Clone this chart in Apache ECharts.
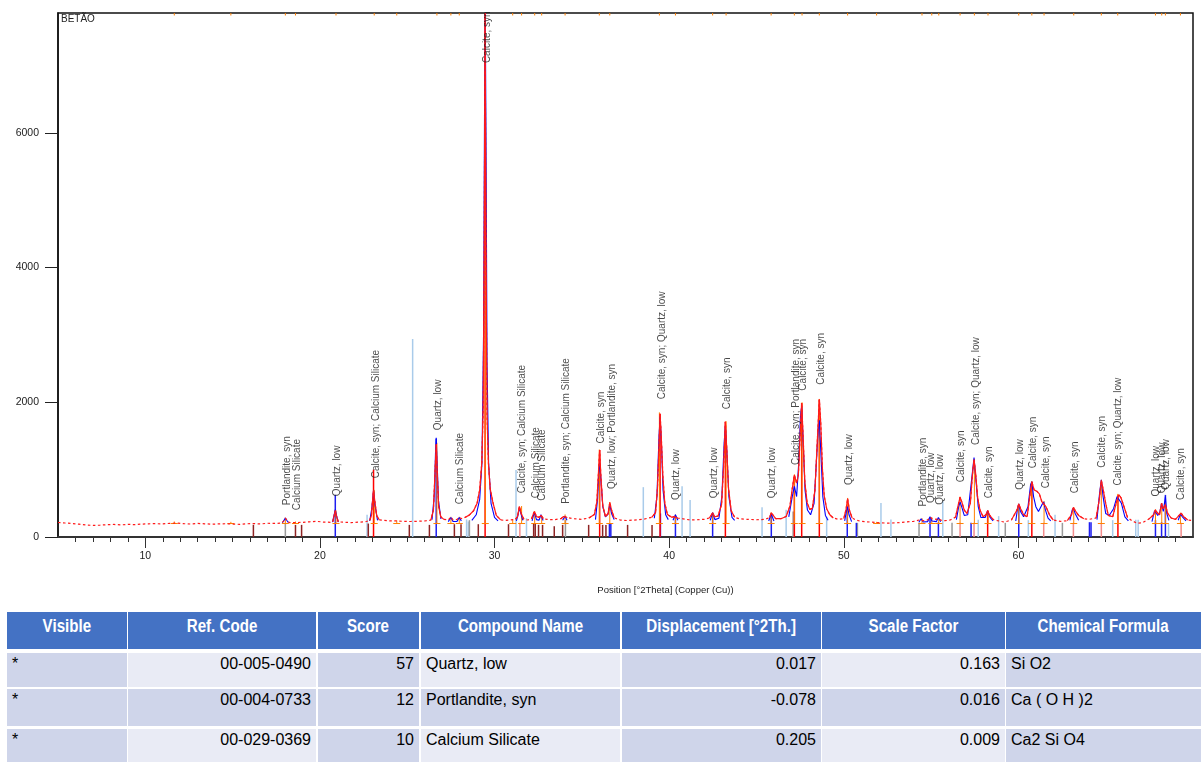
<!DOCTYPE html>
<html>
<head>
<meta charset="utf-8">
<title>BETÃO</title>
<script src="https://cdn.jsdelivr.net/npm/echarts@6/dist/echarts.min.js"></script>
<style>
  html, body { margin: 0; padding: 0; background: #fff; }
  #chart { position: absolute; left: 0; top: 0; width: 1201px; height: 600px; }
  #phases { position: absolute; left: 0; top: 612px; width: 1201px; height: 150px; overflow: hidden; }
  .cell { position: absolute; box-sizing: border-box; overflow: hidden; white-space: nowrap; }
  .head { background: #4472C4; color: #fff; font-family: 'Liberation Sans', Arial, sans-serif;
          font-weight: bold; font-size: 18px; line-height: 28px; text-align: center; }
  .head span { display: inline-block; transform: scaleX(0.84); transform-origin: 50% 50%; }
  .body { color: #000; font-family: 'Liberation Sans', Arial, sans-serif; font-size: 16px; line-height: 22px; padding: 0 5px; }
</style>
</head>
<body>
<div id="chart"></div>
<div id="phases"></div>
<script>
// ---- diffraction pattern: observed intensity (counts) vs position (°2Theta) ----
const observedPattern = [
  [5.0,215],[5.4,208],[5.8,200],[6.2,190],[6.6,178],[7.0,172],[7.4,176],[7.8,183],[8.2,186],[8.6,180],
  [9.0,188],[9.4,184],[9.8,192],[10.2,196],[10.6,198],[11.0,194],[11.4,203],[11.8,206],[12.2,198],[12.6,193],
  [13.0,201],[13.4,196],[13.8,190],[14.2,194],[14.6,197],[15.0,192],[15.4,188],[15.8,196],[16.2,199],[16.6,194],
  [17.0,204],[17.4,201],[17.8,206],[17.92,235],[18.02,280],[18.12,250],[18.25,212],
  [18.6,214],[19.0,218],[19.4,226],[19.8,232],[20.2,222],[20.6,218],
  [20.74,228],[20.82,320],[20.88,390],[20.95,310],[21.05,225],
  [21.4,218],[21.8,214],[22.2,220],[22.6,226],[22.85,245],
  [22.95,320],[23.02,560],[23.07,690],[23.14,540],[23.25,320],[23.4,255],[23.7,248],[24.0,240],
  [24.4,238],[24.8,232],[25.2,230],[25.6,234],[26.0,238],[26.35,250],
  [26.5,400],[26.59,950],[26.66,1380],[26.72,950],[26.8,450],[26.92,300],[27.1,262],
  [27.35,252],[27.5,298],[27.63,255],[27.85,262],[27.98,292],[28.1,272],[28.3,290],[28.55,325],[28.8,390],
  [29.0,500],[29.15,700],[29.27,1100],[29.35,1900],[29.41,4300],[29.46,7780],[29.51,4300],[29.57,1800],
  [29.65,1100],[29.75,720],[29.9,520],[30.1,320],[30.35,255],[30.6,245],[30.9,252],[31.2,262],
  [31.32,305],[31.42,455],[31.53,345],[31.68,265],[31.9,252],[32.12,272],
  [32.2,300],[32.28,380],[32.4,305],[32.55,292],[32.66,322],[32.8,272],[33.0,262],[33.4,256],[33.8,272],
  [33.95,305],[34.04,330],[34.17,290],[34.5,272],[35.0,262],[35.4,282],[35.72,335],
  [35.86,520],[35.95,950],[36.02,1290],[36.09,900],[36.2,460],[36.35,305],[36.5,345],[36.6,515],[36.7,400],
  [36.85,285],[37.2,252],[37.6,244],[38.0,252],[38.5,262],[39.0,292],
  [39.22,360],[39.33,720],[39.42,1350],[39.48,1830],[39.55,1480],[39.64,900],[39.75,500],[39.9,335],[40.15,292],
  [40.27,302],[40.36,330],[40.48,282],[40.8,270],[41.2,252],[41.6,256],[42.0,262],[42.3,282],
  [42.42,330],[42.49,360],[42.6,300],[42.8,312],[43.0,480],[43.12,1050],[43.22,1710],[43.3,1300],[43.4,720],
  [43.55,390],[43.75,292],[44.0,272],[44.5,262],[45.0,256],[45.5,262],
  [45.75,290],[45.85,360],[45.95,335],[46.1,272],[46.4,272],[46.7,305],[46.92,460],
  [47.05,720],[47.17,920],[47.3,800],[47.4,920],[47.5,1500],[47.59,1990],[47.67,1500],[47.77,820],[47.9,510],
  [48.05,410],[48.2,425],[48.35,700],[48.48,1400],[48.6,2040],[48.68,1700],[48.78,1000],[48.88,610],[49.02,420],
  [49.2,330],[49.4,282],[49.7,262],[50.0,272],
  [50.13,410],[50.22,570],[50.32,400],[50.48,282],[50.7,252],[51.0,232],[51.5,222],[52.0,212],[52.5,206],
  [53.0,210],[53.5,222],[54.0,232],
  [54.32,252],[54.43,277],[54.56,242],[54.8,252],[54.94,292],[55.06,270],[55.3,262],[55.42,275],[55.56,250],
  [55.8,242],[56.1,252],[56.4,295],
  [56.56,480],[56.66,590],[56.76,520],[56.9,400],[57.05,350],[57.25,500],
  [57.36,900],[57.46,1150],[57.55,950],[57.66,600],[57.8,400],[57.98,300],[58.14,330],[58.24,390],[58.36,320],
  [58.55,262],[58.8,242],[59.2,222],[59.6,252],
  [59.92,400],[60.02,490],[60.13,420],[60.3,330],[60.5,300],[60.65,600],[60.77,820],[60.9,700],[61.05,680],
  [61.2,640],[61.35,520],[61.45,530],[61.58,450],[61.78,330],[62.0,252],[62.4,232],[62.8,242],
  [63.04,330],[63.15,440],[63.26,390],[63.45,320],[63.75,270],[64.05,262],[64.45,282],
  [64.63,550],[64.75,840],[64.86,700],[65.0,500],[65.15,320],[65.4,300],[65.6,500],[65.75,630],[65.88,580],
  [66.05,450],[66.25,292],[66.5,242],[66.8,205],[67.1,210],[67.45,262],
  [67.75,330],[67.85,405],[67.95,360],[68.08,330],[68.2,500],[68.3,420],[68.42,480],[68.55,350],[68.75,282],
  [69.0,262],[69.2,320],[69.32,355],[69.45,305],[69.7,252],[70.0,242]
];

// calculated profile, drawn only around the fitted reflections (null = gap)
const calculatedProfile = [
  [17.85,212],[17.95,250],[18.02,282],[18.1,248],[18.2,212],null,
  [20.72,222],[20.82,335],[20.88,405],[20.95,322],[21.05,222],null,
  [22.85,238],[22.97,420],[23.07,690],[23.15,480],[23.3,248],null,
  [26.42,258],[26.55,620],[26.62,1250],[26.66,1475],[26.71,1120],[26.79,540],[26.93,268],null,
  [27.35,228],[27.5,290],[27.62,230],[27.85,232],[27.98,290],[28.1,238],null,
  [28.7,248],[28.95,330],[29.15,560],[29.28,1100],[29.37,3000],[29.43,6500],[29.47,7780],[29.51,6000],
  [29.57,2600],[29.66,1100],[29.8,500],[30.0,290],[30.2,240],null,
  [31.25,238],[31.35,330],[31.42,432],[31.5,360],[31.62,248],null,
  [32.15,238],[32.28,370],[32.4,258],[32.55,250],[32.66,330],[32.78,245],null,
  [33.9,248],[34.04,310],[34.15,248],null,
  [35.78,258],[35.9,560],[35.97,960],[36.02,1100],[36.08,900],[36.2,450],[36.35,298],[36.5,340],[36.6,490],
  [36.7,350],[36.85,258],null,
  [39.15,278],[39.3,600],[39.42,1500],[39.48,1790],[39.55,1450],[39.65,700],[39.8,330],[39.95,258],null,
  [40.22,248],[40.36,330],[40.5,248],null,
  [42.35,248],[42.49,360],[42.62,258],[42.85,278],[43.02,600],[43.15,1400],[43.22,1650],[43.3,1300],
  [43.42,600],[43.6,290],[43.75,248],null,
  [45.7,238],[45.85,342],[46.0,238],null,
  [46.85,300],[47.05,600],[47.17,752],[47.3,600],[47.42,1100],[47.52,1800],[47.59,1940],[47.66,1500],
  [47.78,700],[47.92,400],[48.1,330],[48.3,500],[48.45,1200],[48.55,1650],[48.6,1732],[48.68,1300],
  [48.8,600],[48.95,320],[49.1,248],null,
  [50.05,238],[50.15,380],[50.22,452],[50.3,330],[50.45,228],null,
  [54.3,218],[54.43,270],[54.55,222],[54.8,228],[54.94,300],[55.05,238],[55.3,228],[55.42,290],[55.55,228],null,
  [56.45,258],[56.58,450],[56.66,520],[56.75,450],[56.9,320],[57.1,330],[57.3,800],[57.46,1180],[57.55,900],
  [57.7,450],[57.85,290],[58.1,290],[58.24,390],[58.38,290],[58.55,238],null,
  [59.85,238],[59.95,420],[60.02,490],[60.12,380],[60.3,300],[60.55,450],[60.7,780],[60.77,820],[60.87,600],
  [61.0,450],[61.15,380],[61.35,480],[61.45,520],[61.55,400],[61.7,280],[61.85,238],null,
  [62.95,248],[63.08,400],[63.15,430],[63.25,350],[63.45,248],null,
  [64.5,258],[64.65,650],[64.75,850],[64.85,600],[65.0,350],[65.2,320],[65.45,420],[65.65,600],[65.75,620],
  [65.9,500],[66.1,300],[66.3,238],null,
  [67.65,228],[67.8,390],[67.88,410],[67.98,320],[68.1,370],[68.2,500],[68.3,380],[68.42,600],[68.5,350],
  [68.62,248],null,
  [69.15,248],[69.28,340],[69.32,350],[69.42,290],[69.6,238]
];

// reference stick patterns: [position °2Theta, scaled intensity]
const calciteLines = [[23.07,1000],[29.46,7780],[36.02,1290],[39.48,1830],[43.22,1710],[47.17,900],
  [47.59,1990],[48.6,2040],[58.24,360],[60.77,820],[65.7,625]];
const calciteWeakLines = [[31.45,210],[56.66,210],[57.46,210],[61.45,210],[63.15,210],[64.75,210],[69.32,210]];
const quartzLines = [[20.88,625],[26.66,1460],[36.58,200],[36.66,200],[39.5,350],[40.36,310],[42.49,355],
  [45.85,355],[50.2,450],[50.72,210],[54.94,290],[55.42,220],[57.29,210],[60.02,480],[64.07,220],[64.16,220],
  [67.85,250],[68.2,220],[68.42,625]];
const portlanditeLines = [[18.02,210],[28.56,250],[34.06,250],[47.1,380],[50.78,210],[54.31,210],[56.2,210],
  [59.25,210],[62.52,210]];
const calciumSilicateLines = [[16.19,180],[18.6,180],[18.95,180],[22.77,200],[25.12,180],[26.27,180],[27.7,190],
  [28.08,190],[29.07,190],[30.8,190],[32.24,200],[32.33,200],[32.52,180],[32.75,180],[33.42,160],[33.9,180],
  [35.39,180],[36.19,180],[36.38,180],[37.62,180],[39.02,180]];
const otherPhaseLines = [[22.7,330],[25.31,2940],[28.4,260],[28.5,230],[31.23,995],[31.83,280],[38.52,740],
  [40.74,753],[41.2,551],[45.32,443],[46.7,404],[49.02,300],[52.13,503],[52.7,260],[55.67,532],[57.7,256],
  [58.87,310],[60.57,250],[62.1,330],[65.4,250],[66.72,256],[66.86,256],[68.6,200]];

// peak list: positions and peak-top intensities, over a common background level
const peakPositions = [11.66,14.9,18.02,18.6,20.92,23.11,24.4,26.7,27.5,27.98,29.47,31.04,31.55,32.3,32.7,
  34.04,36.0,36.6,39.44,40.36,42.49,43.26,45.84,47.17,47.61,48.6,50.22,51.88,54.48,55.04,55.44,56.66,57.48,
  58.26,60.02,60.77,61.47,63.17,64.75,65.69,67.85,68.21,68.42,69.28];
const peakHeights = [230,225,285,230,395,700,245,1400,300,300,7780,260,460,385,325,335,1300,520,1850,335,365,
  1720,365,930,2000,2050,580,225,280,295,280,600,1160,395,495,830,535,445,850,640,410,505,545,360];
const peakBackground = 200;

// phase annotations: [position, intensity at label start, text]
const peakLabels = [
  [18.13,473,'Portlandite, syn'],[18.70,399,'Calcium Silicate'],[20.99,606,'Quartz, low'],
  [23.21,872,'Calcite, syn; Calcium Silicate'],[26.79,1586,'Quartz, low'],[28.02,488,'Calcium Silicate'],
  [29.56,7036,'Calcite, syn'],[31.60,650,'Calcite, syn; Calcium Silicate'],[32.37,576,'Calcium Silicate'],
  [32.71,540,'Calcium Silicate'],[34.09,493,'Portlandite, syn; Calcium Silicate'],[36.09,1390,'Calcite, syn'],
  [36.72,714,'Quartz, low; Portlandite, syn'],[39.58,2045,'Calcite, syn; Quartz, low'],[40.42,551,'Quartz, low'],
  [42.58,576,'Quartz, low'],[43.34,1897,'Calcite, syn'],[45.92,576,'Quartz, low'],
  [47.25,1069,'Calcite, syn; Portlandite, syn'],[47.68,2173,'Calcite, syn'],[48.69,2262,'Calcite, syn'],
  [50.31,773,'Quartz, low'],[54.54,453,'Portlandite, syn'],[55.02,503,'Quartz, low'],[55.50,478,'Quartz, low'],
  [56.74,813,'Calcite, syn'],[57.56,1365,'Calcite, syn; Quartz, low'],[58.32,576,'Calcite, syn'],
  [60.10,700,'Quartz, low'],[60.84,1020,'Calcite, syn'],[61.57,724,'Calcite, syn'],[63.23,650,'Calcite, syn'],
  [64.81,1030,'Calcite, syn'],[65.73,764,'Calcite, syn; Quartz, low'],[67.87,601,'Quartz, low'],
  [68.25,650,'Quartz, low'],[68.48,700,'Quartz, low'],[69.35,551,'Calcite, syn']
];

const xTickLabels = [10, 20, 30, 40, 50, 60];
const yTickLabels = [0, 2000, 4000, 6000];
const xRange = [5, 70];
const yTop = 7780;

// ---- identified phases table ----
const tableHeaders = ['Visible', 'Ref. Code', 'Score', 'Compound Name', 'Displacement [°2Th.]', 'Scale Factor', 'Chemical Formula'];
const visibleFlags = ['*', '*', '*'];
const refCodes = ['00-005-0490', '00-004-0733', '00-029-0369'];
const scores = ['57', '12', '10'];
const compoundNames = ['Quartz, low', 'Portlandite, syn', 'Calcium Silicate'];
const displacements = ['0.017', '-0.078', '0.205'];
const scaleFactors = ['0.163', '0.016', '0.009'];
const chemicalFormulas = ['Si O2', 'Ca ( O H )2', 'Ca2 Si O4'];

const FONT = "'Liberation Sans', Arial, sans-serif";

// integer-degree minor ticks between the labelled decades
const minorTicks = [];
for (let v = Math.ceil(xRange[0]) + 1; v < xRange[1]; v++) minorTicks.push(v);

function stickSeries(name, lines, color, width) {
  return {
    type: 'custom', name: name, coordinateSystem: 'cartesian2d', data: lines, silent: true, z: 1,
    encode: { x: 0, y: 1 },
    renderItem: function (params, api) {
      const x = api.value(0), h = api.value(1);
      const a = api.coord([x, 0]), b = api.coord([x, h]);
      return { type: 'line', shape: { x1: a[0], y1: a[1], x2: b[0], y2: b[1] },
               style: { stroke: color, lineWidth: width } };
    }
  };
}

// solid stroke only where the pattern rises into a reflection
const solidObserved = observedPattern.map(function (p, i) {
  const near = [observedPattern[i - 1], p, observedPattern[i + 1]].some(function (q) { return q && q[1] >= 300; });
  return near ? p : '-';
});
const calculatedData = calculatedProfile.map(function (p) { return p === null ? '-' : p; });

const chart = echarts.init(document.getElementById('chart'), null, { renderer: 'canvas' });
chart.setOption({
  animation: false,
  backgroundColor: '#fff',
  textStyle: { fontFamily: FONT },
  title: {
    text: 'BETÃO', left: 59, top: 12, padding: [2, 2],
    textStyle: { fontSize: 10, fontWeight: 'normal', color: '#222', fontFamily: FONT }
  },
  grid: { left: 58, right: 8, top: 13, bottom: 61, show: true, borderColor: '#111', borderWidth: 1.5, backgroundColor: 'transparent' },
  xAxis: [{
    type: 'value', min: xRange[0], max: xRange[1],
    name: 'Position [°2Theta] (Copper (Cu))', nameLocation: 'middle', nameGap: 48,
    nameTextStyle: { fontSize: 9.5, color: '#222', fontFamily: FONT, padding: [0, 0, 0, 80] },
    axisLine: { show: true, lineStyle: { color: '#333', width: 2 } },
    axisTick: { show: true, customValues: minorTicks, length: 5, lineStyle: { color: '#333', width: 1 } },
    axisLabel: { customValues: xTickLabels, fontSize: 10.5, color: '#222', margin: 14, fontFamily: FONT,
                 formatter: function (v) { return String(v); } },
    splitLine: { show: false }
  }, {
    type: 'value', min: xRange[0], max: xRange[1], position: 'bottom',
    axisLine: { show: false },
    axisTick: { show: true, customValues: xTickLabels, length: 11, lineStyle: { color: '#333', width: 1 } },
    axisLabel: { show: false },
    splitLine: { show: false }
  }],
  yAxis: {
    type: 'value', min: 0, max: yTop,
    axisLine: { show: true, lineStyle: { color: '#111', width: 1.5 } },
    axisTick: { show: true, customValues: yTickLabels, length: 13, lineStyle: { color: '#222', width: 1 } },
    axisLabel: { customValues: yTickLabels, fontSize: 10.5, color: '#222', margin: 19, fontFamily: FONT,
                 formatter: function (v) { return String(v); } },
    splitLine: { show: false }
  },
  series: [
    stickSeries('Other phase', otherPhaseLines, '#A9CBEA', 1.5),
    stickSeries('Calcium Silicate', calciumSilicateLines, '#8E2323', 1.5),
    stickSeries('Portlandite, syn', portlanditeLines, '#9A9A9A', 1.5),
    stickSeries('Quartz, low', quartzLines, '#1E1EF0', 1.5),
    stickSeries('Calcite, syn (weak)', calciteWeakLines, '#F28B8B', 1.5),
    stickSeries('Calcite, syn', calciteLines, '#FF0000', 1.5),
    {
      type: 'custom', name: 'Peak list', coordinateSystem: 'cartesian2d', silent: true, z: 2,
      data: peakPositions.map(function (x, i) { return [x, peakHeights[i]]; }),
      encode: { x: 0, y: 1 },
      renderItem: function (params, api) {
        const x = api.value(0), top = api.value(1);
        const base = api.coord([x, peakBackground]), peak = api.coord([x, top]), edge = api.coord([x, yTop]);
        const st = { stroke: '#FF8000', lineWidth: 1 };
        return { type: 'group', children: [
          { type: 'line', shape: { x1: base[0], y1: base[1], x2: peak[0], y2: peak[1] }, style: st },
          { type: 'line', shape: { x1: base[0] - 3.5, y1: base[1], x2: base[0] + 3.5, y2: base[1] }, style: st },
          { type: 'line', shape: { x1: edge[0], y1: edge[1], x2: edge[0], y2: edge[1] + 2.5 }, style: st }
        ] };
      }
    },
    {
      type: 'line', name: 'Calculated', data: calculatedData, symbol: 'none', silent: true, z: 3,
      connectNulls: false, lineStyle: { color: '#0000FF', width: 1.1 }
    },
    {
      type: 'line', name: 'Observed', data: observedPattern, symbol: 'none', silent: true, z: 4,
      lineStyle: { color: '#FF1A1A', width: 1.2, type: [2.5, 2.5] }
    },
    {
      type: 'line', name: 'Observed peaks', data: solidObserved, symbol: 'none', silent: true, z: 4,
      connectNulls: false, lineStyle: { color: '#FF1A1A', width: 1.2 }
    },
    {
      type: 'scatter', name: 'Phase labels', data: peakLabels, symbolSize: 0, silent: true, z: 6,
      itemStyle: { color: 'rgba(0,0,0,0)' },
      label: {
        show: true, position: [0, 0], rotate: 90, align: 'left', verticalAlign: 'middle',
        fontSize: 10, color: '#1a1a1a', fontFamily: FONT,
        formatter: function (p) { return p.data[2]; }
      }
    }
  ]
});

// ---- table of identified phases ----
const colEdges = [[7,127],[128,316],[318,419],[421,620],[622,821],[822,1005],[1006,1201]];
const colAlign = ['left','right','right','left','right','right','left'];
const rowBoxes = [[41,34],[77,37],[117,33]];
const columns = [visibleFlags, refCodes, scores, compoundNames, displacements, scaleFactors, chemicalFormulas];
const host = document.getElementById('phases');
tableHeaders.forEach(function (h, c) {
  const d = document.createElement('div');
  d.className = 'cell head';
  d.style.left = colEdges[c][0] + 'px'; d.style.width = (colEdges[c][1] - colEdges[c][0]) + 'px';
  d.style.top = '0px'; d.style.height = '37px';
  const s = document.createElement('span');
  s.textContent = h;
  d.appendChild(s);
  host.appendChild(d);
});
refCodes.forEach(function (_, r) {
  columns.forEach(function (col, c) {
    const d = document.createElement('div');
    d.className = 'cell body';
    d.style.left = colEdges[c][0] + 'px'; d.style.width = (colEdges[c][1] - colEdges[c][0]) + 'px';
    d.style.top = rowBoxes[r][0] + 'px'; d.style.height = rowBoxes[r][1] + 'px';
    d.style.textAlign = colAlign[c];
    const darkBand = (r % 2 === 1) || (c % 2 === 0);
    d.style.background = darkBand ? '#CFD5EA' : '#E9EBF5';
    d.textContent = col[r];
    host.appendChild(d);
  });
});
</script>
</body>
</html>
